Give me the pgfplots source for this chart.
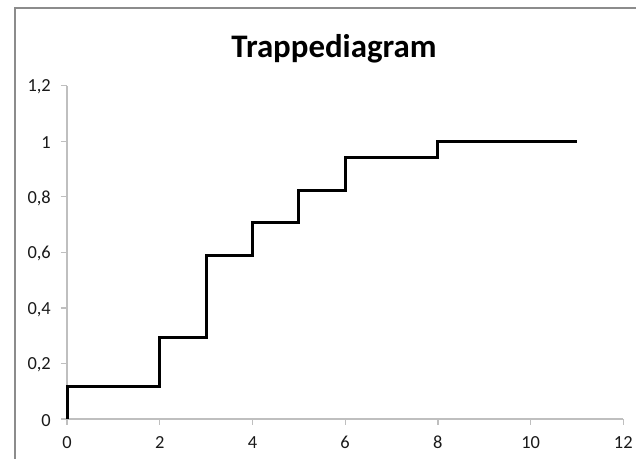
\documentclass[border=0pt]{standalone}
\usepackage{fontspec}
\setmainfont{Carlito}
\usepackage{pgfplots}
\pgfplotsset{compat=1.18}

\definecolor{framegray}{HTML}{8C8C8C}
\definecolor{axisgray}{HTML}{BFBFBF}
\definecolor{labelgray}{HTML}{1A1A1A}

\begin{document}
\begin{tikzpicture}[x=1bp,y=1bp]
  % page area and chart frame
  \path[use as bounding box, fill=white] (0,0) rectangle (636,459);
  \draw[framegray, line width=1.3bp] (15,0) -- (15,451) -- (636,451);

  % title
  \node[font=\fontsize{33}{37}\selectfont\bfseries, anchor=base] at (334,401) {Trappediagram};

  \begin{axis}[
    at={(67bp,40bp)}, anchor=south west,
    scale only axis,
    width=556.3bp, height=333.4bp,
    xmin=0, xmax=12, ymin=0, ymax=1.2,
    xtick={0,2,...,12},
    ytick={0,0.2,0.4,0.6,0.8,1,1.2},
    axis x line=bottom, axis y line=left,
    axis line style={-, axisgray, line width=1.3bp},
    tick style={axisgray, line width=1.3bp},
    tick align=outside,
    major tick length=6bp,
    clip=false,
    tick label style={font=\fontsize{18.5}{21}\selectfont, text=labelgray, inner sep=0pt},
    xticklabel style={anchor=north, yshift=-11bp},
    yticklabel style={anchor=east, xshift=-10bp, yshift=-1.5bp},
    xticklabel={\pgfmathprintnumber[assume math mode=true,use comma,fixed]{\tick}},
    yticklabel={\pgfmathprintnumber[assume math mode=true,use comma,fixed]{\tick}},
  ]
    % cumulative step curve
    \addplot[const plot mark left, black, line width=3bp, line join=miter] coordinates {
      (0,0) (0,0.1176) (2,0.2941) (3,0.5882) (4,0.7059)
      (5,0.8235) (6,0.9412) (8,1) (11,1)
    };
  \end{axis}
\end{tikzpicture}
\end{document}
